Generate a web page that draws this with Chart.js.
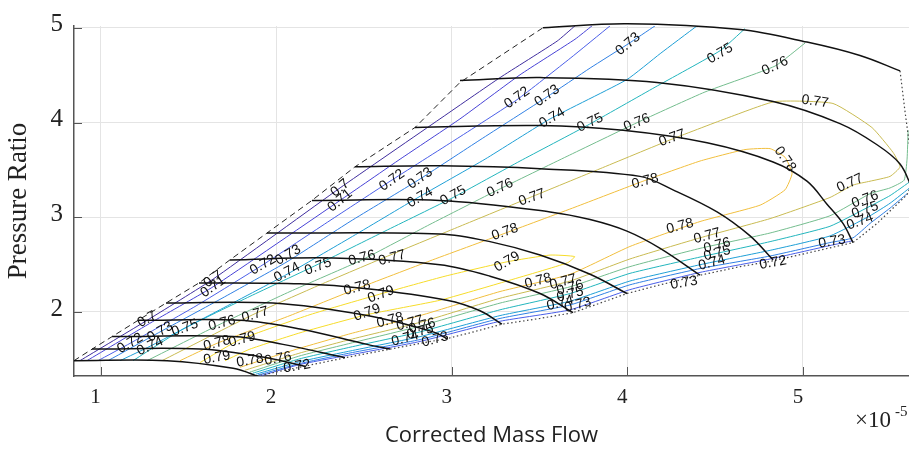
<!DOCTYPE html>
<html>
<head>
<meta charset="utf-8">
<script src="https://cdn.jsdelivr.net/npm/chart.js@4.4.0/dist/chart.umd.min.js"></script>
<style>
  html, body { margin: 0; padding: 0; background: #fff; }
</style>
</head>
<body>
<canvas id="chart" width="909" height="453"></canvas>
<script>
// axes (x is in units of 1e-5)
const xTicks = [1, 2, 3, 4, 5];
const yTicks = [2, 3, 4, 5];
const xRange = [0.849, 5.604];
const yRange = [1.324, 5.02];

// surge line (dashed) and choke boundary (dotted)
const surgeLine = [[0.849,1.486],[0.952,1.608],[1.066,1.740],[1.214,1.912],[1.373,2.094],[1.561,2.307],[1.737,2.550],[1.948,2.834],[2.204,3.178],[2.449,3.533],[2.791,3.948],[3.047,4.424],[3.520,5.002]];
const chokeLine = [[5.553,4.546],[5.581,4.121],[5.610,3.715],[5.621,3.361],[5.593,3.239],[5.422,2.935],[5.285,2.733],[5.069,2.641],[4.830,2.540],[4.642,2.479],[4.414,2.388],[4.187,2.287],[3.998,2.195],[3.845,2.094],[3.691,1.993],[3.503,1.932],[3.286,1.871],[3.104,1.780],[2.973,1.719],[2.820,1.669],[2.649,1.608],[2.421,1.527],[2.210,1.446],[2.051,1.385],[1.891,1.324],[1.794,1.263]];

// constant speed lines, top to bottom
const speedLines = [
  [[3.520,5.002],[3.998,5.043],[4.642,4.982],[5.023,4.850],[5.325,4.708],[5.553,4.546]],
  [[3.047,4.445],[3.503,4.475],[4.169,4.424],[4.830,4.222],[5.211,3.989],[5.422,3.766],[5.553,3.563],[5.621,3.310]],
  [[2.791,3.948],[3.503,3.969],[3.976,3.918],[4.454,3.786],[4.830,3.584],[5.023,3.381],[5.137,3.138],[5.228,2.935],[5.285,2.733]],
  [[2.449,3.533],[2.933,3.543],[3.503,3.513],[4.072,3.432],[4.260,3.290],[4.511,3.057],[4.699,2.803],[4.830,2.550]],
  [[2.204,3.178],[2.933,3.178],[3.560,3.057],[3.788,2.976],[3.998,2.854],[4.187,2.672],[4.414,2.388]],
  [[1.948,2.834],[2.933,2.824],[3.218,2.743],[3.503,2.601],[3.788,2.398],[3.998,2.195]],
  [[1.737,2.550],[2.324,2.570],[2.933,2.499],[3.218,2.378],[3.503,2.195],[3.691,1.993]],
  [[1.561,2.307],[2.136,2.297],[2.518,2.246],[2.973,2.124],[3.161,2.013],[3.286,1.871]],
  [[1.373,2.094],[1.982,2.094],[2.518,1.962],[2.894,1.790],[2.973,1.719]],
  [[1.214,1.912],[1.794,1.912],[2.136,1.820],[2.518,1.658],[2.649,1.608]],
  [[1.066,1.740],[1.755,1.740],[2.039,1.658],[2.392,1.517]],
  [[0.952,1.608],[1.567,1.608],[1.948,1.517],[2.165,1.425]],
  [[0.849,1.486],[1.379,1.486],[1.755,1.405],[1.891,1.324],[1.965,1.263]]
];

// efficiency contours, main branch per level
const eff70 = [[0.883,1.486],[1.265,1.912],[1.641,2.347],[2.364,3.310],[2.933,4.039],[3.275,4.475],[3.600,4.860],[3.702,5.022]];
const eff71 = [[0.923,1.486],[1.310,1.912],[1.641,2.266],[2.364,3.178],[2.706,3.614],[3.047,4.039],[3.389,4.505],[3.702,4.880],[3.799,5.022]];
const eff72 = [[0.986,1.486],[1.168,1.669],[1.544,2.064],[1.925,2.499],[2.307,2.966],[2.649,3.381],[3.019,3.817],[3.372,4.242],[3.674,4.678],[3.902,5.022]];
const eff73 = [[1.043,1.486],[1.339,1.790],[1.692,2.145],[2.062,2.530],[2.421,2.955],[2.808,3.391],[3.161,3.817],[3.543,4.272],[3.788,4.576],[4.004,4.830],[4.158,5.022]];
const eff74 = [[1.111,1.486],[1.282,1.638],[1.669,2.013],[2.062,2.398],[2.421,2.783],[2.808,3.209],[3.190,3.614],[3.560,4.039],[3.998,4.455],[4.187,4.728],[4.397,5.022]];
const eff75 = [[1.185,1.486],[1.470,1.820],[1.851,2.165],[2.233,2.499],[2.620,2.854],[3.008,3.209],[3.389,3.594],[3.771,3.969],[4.158,4.374],[4.528,4.759],[4.670,4.992]];
const eff76 = [[1.265,1.486],[1.681,1.871],[2.079,2.216],[2.489,2.550],[2.876,2.925],[3.264,3.290],[3.657,3.644],[4.055,3.999],[4.442,4.323],[4.841,4.597],[5.012,4.840]];
const eff77 = [[1.350,1.486],[1.868,1.972],[2.250,2.287],[2.649,2.601],[3.047,2.905],[3.446,3.209],[3.845,3.513],[4.243,3.817],[4.556,4.039],[4.841,4.222],[5.171,4.202],[5.393,3.948],[5.513,3.685],[5.553,3.533],[5.496,3.432],[5.382,3.381],[5.285,3.340],[5.154,3.209],[4.813,2.986],[4.414,2.783],[4.015,2.560],[3.674,2.327],[3.275,2.145],[2.820,1.891],[2.421,1.709],[2.136,1.567],[1.823,1.385]];
const eff78 = [[1.453,1.486],[1.663,1.669],[2.079,1.962],[2.461,2.246],[2.876,2.540],[3.292,2.824],[3.702,3.107],[4.089,3.381],[4.414,3.594],[4.670,3.715],[4.813,3.725],[4.898,3.634],[4.938,3.462],[4.898,3.290],[4.756,3.128],[4.414,2.955],[4.015,2.692],[3.674,2.398],[3.275,2.216],[2.820,1.962],[2.421,1.770],[2.136,1.618],[1.908,1.486],[1.794,1.415]];
const eff79 = [[1.567,1.466],[1.794,1.709],[2.193,1.972],[2.603,2.195],[2.962,2.378],[3.315,2.530],[3.560,2.601],[3.700,2.585],[3.660,2.520],[3.315,2.327],[2.933,2.124],[2.518,1.972],[2.136,1.780],[1.851,1.608],[1.709,1.486]];

// choke-side branches of the lower levels
const eff72r = [[5.285,2.753],[5.154,2.702],[4.813,2.560],[4.414,2.418],[4.015,2.236],[3.674,2.023],[3.275,1.902],[2.820,1.689],[2.421,1.547],[2.136,1.446],[1.908,1.324]];
const eff73r = [[5.593,3.249],[5.496,3.097],[5.382,2.935],[5.285,2.783],[5.154,2.733],[4.813,2.591],[4.414,2.459],[4.015,2.287],[3.674,2.074],[3.275,1.932],[2.820,1.709],[2.421,1.567],[2.136,1.456],[1.897,1.334]];
const eff74r = [[5.621,3.330],[5.496,3.148],[5.382,3.016],[5.154,2.803],[4.813,2.651],[4.414,2.499],[4.015,2.327],[3.674,2.114],[3.275,1.962],[2.820,1.740],[2.421,1.588],[2.136,1.476],[1.886,1.344]];
const eff75r = [[5.621,3.391],[5.496,3.229],[5.382,3.117],[5.154,2.905],[4.813,2.743],[4.414,2.580],[4.015,2.408],[3.674,2.195],[3.275,2.023],[2.820,1.790],[2.421,1.628],[2.136,1.506],[1.868,1.354]];
const eff76r = [[5.599,3.918],[5.593,3.614],[5.576,3.391],[5.496,3.310],[5.382,3.249],[5.154,3.016],[4.813,2.834],[4.414,2.672],[4.015,2.479],[3.674,2.266],[3.275,2.094],[2.820,1.851],[2.421,1.669],[2.136,1.537],[1.851,1.365]];

const effLevels = [0.70, 0.71, 0.72, 0.73, 0.74, 0.75, 0.76, 0.77, 0.78, 0.79];
const effColors = ['#3f2d9e','#4742d6','#4a5ee8','#3080e4','#1e9fd6','#22b5bd','#74bd8e','#c9bb52','#f1bf3e','#f6dc2a'];
const effCurves = [
  [0.70, eff70], [0.71, eff71], [0.72, eff72], [0.73, eff73], [0.74, eff74],
  [0.75, eff75], [0.76, eff76], [0.77, eff77], [0.78, eff78], [0.79, eff79],
  [0.72, eff72r], [0.73, eff73r], [0.74, eff74r], [0.75, eff75r], [0.76, eff76r]
];

// inline contour labels: text, x, y, angle (deg)
const contourLabels = [
  ['0.73',4.004,4.830,-40],['0.75',4.528,4.728,-30],['0.76',4.841,4.597,-25],
  ['0.72',3.372,4.262,-35],['0.73',3.543,4.283,-35],['0.74',3.571,4.050,-30],['0.75',3.788,3.999,-25],
  ['0.76',4.055,3.999,-22],['0.77',4.255,3.837,-20],['0.77',5.069,4.222,8],['0.78',4.898,3.614,55],
  ['0.7',2.364,3.310,-40],['0.71',2.364,3.178,-40],['0.72',2.660,3.391,-35],['0.73',2.820,3.411,-35],
  ['0.74',2.820,3.209,-30],['0.75',3.008,3.229,-28],['0.76',3.275,3.310,-25],['0.77',3.457,3.209,-20],
  ['0.78',4.101,3.381,-15],['0.78',3.303,2.844,-20],['0.79',3.315,2.530,-30],
  ['0.78',4.300,2.905,-15],['0.77',4.454,2.803,-15],['0.76',4.511,2.702,-15],['0.75',4.511,2.621,-15],
  ['0.74',4.482,2.520,-15],['0.73',4.323,2.307,-10],['0.72',4.830,2.520,-10],['0.73',5.166,2.743,-10],
  ['0.74',5.325,2.955,-20],['0.75',5.354,3.077,-20],['0.76',5.354,3.188,-20],['0.77',5.268,3.361,-25],
  ['0.7',1.641,2.347,-35],['0.71',1.641,2.266,-35],['0.72',1.925,2.499,-30],['0.73',2.068,2.601,-30],
  ['0.74',2.062,2.418,-28],['0.75',2.239,2.479,-20],['0.76',2.489,2.570,-15],['0.77',2.660,2.570,-15],
  ['0.78',2.461,2.256,-15],['0.79',2.597,2.185,-20],['0.79',2.518,1.993,-20],['0.78',2.649,1.912,-15],
  ['0.77',2.762,1.881,-15],['0.76',2.831,1.851,-15],['0.75',2.820,1.790,-15],['0.74',2.734,1.719,-15],
  ['0.73',2.905,1.709,-15],['0.78',3.492,2.327,-15],['0.77',3.634,2.317,-15],['0.76',3.674,2.256,-15],
  ['0.75',3.674,2.185,-15],['0.74',3.617,2.094,-15],['0.73',3.719,2.074,-15],
  ['0.7',1.265,1.922,-30],['0.72',1.168,1.669,-30],['0.73',1.339,1.790,-30],['0.74',1.282,1.638,-25],
  ['0.75',1.481,1.831,-20],['0.76',1.692,1.881,-15],['0.77',1.880,1.972,-15],['0.78',1.663,1.669,-15],
  ['0.79',1.806,1.709,-15],['0.79',1.663,1.517,-10],['0.78',1.851,1.486,-10],['0.76',2.011,1.506,-10],
  ['0.72',2.119,1.425,-10]
];

const toXY = pts => pts.map(([x, y]) => ({ x, y }));

const datasets = [];
speedLines.forEach((pts, i) => {
  datasets.push({ data: toXY(pts), showLine: true, borderColor: '#111', borderWidth: 1.5,
    tension: 0.35, pointRadius: 0, clip: i === 0 ? 6 : 0 });
});
datasets.push({ data: toXY(surgeLine), showLine: true, borderColor: '#222', borderWidth: 1,
  borderDash: [6, 4], tension: 0, pointRadius: 0 });
datasets.push({ data: toXY(chokeLine), showLine: true, borderColor: '#444', borderWidth: 1.2,
  borderDash: [1.5, 2.5], tension: 0, pointRadius: 0 });
effCurves.forEach(([lvl, pts]) => {
  datasets.push({ data: toXY(pts), showLine: true, borderColor: effColors[effLevels.indexOf(lvl)],
    borderWidth: 1, tension: 0.15, pointRadius: 0 });
});

const innerTicks = {
  id: 'innerTicks',
  afterDatasetsDraw(c) {
    const { ctx, chartArea: a, scales: { x, y } } = c;
    ctx.save();
    ctx.strokeStyle = '#555';
    ctx.lineWidth = 1;
    ctx.beginPath();
    xTicks.forEach(v => { const p = Math.round(x.getPixelForValue(v)) + 0.5; ctx.moveTo(p, a.bottom); ctx.lineTo(p, a.bottom - 9); });
    yTicks.forEach(v => { const p = Math.round(y.getPixelForValue(v)) + 0.5; ctx.moveTo(a.left, p); ctx.lineTo(a.left + 8, p); });
    ctx.stroke();
    ctx.restore();
  }
};

const contourText = {
  id: 'contourText',
  afterDatasetsDraw(c) {
    const { ctx, scales: { x, y } } = c;
    ctx.save();
    ctx.font = '14px "Liberation Sans", Arial, sans-serif';
    ctx.fillStyle = '#111';
    ctx.textAlign = 'center';
    ctx.textBaseline = 'middle';
    contourLabels.forEach(([t, vx, vy, ang]) => {
      ctx.save();
      ctx.translate(x.getPixelForValue(vx), y.getPixelForValue(vy));
      ctx.rotate(ang * Math.PI / 180);
      ctx.fillText(t, 0, 0);
      ctx.restore();
    });
    ctx.restore();
  }
};

const exponentText = {
  id: 'exponentText',
  afterDraw(c) {
    const { ctx } = c;
    ctx.save();
    ctx.fillStyle = '#222';
    ctx.textAlign = 'left';
    ctx.textBaseline = 'alphabetic';
    ctx.font = '23px "Liberation Serif", serif';
    ctx.fillText('\u00d710', 855, 427);
    ctx.font = '15px "Liberation Serif", serif';
    ctx.fillText('-5', 895, 416);
    ctx.restore();
  }
};

new Chart(document.getElementById('chart'), {
  type: 'scatter',
  data: { datasets },
  options: {
    responsive: false,
    animation: false,
    events: [],
    layout: { padding: { top: 11, left: 0, right: 0, bottom: 0 } },
    plugins: { legend: { display: false }, tooltip: { enabled: false } },
    scales: {
      x: {
        type: 'linear', min: xRange[0], max: xRange[1],
        afterBuildTicks: s => { s.ticks = xTicks.map(v => ({ value: v })); },
        afterFit: s => { s.height = 77; },
        grid: { color: '#e4e4e4', drawTicks: false },
        border: { color: '#555', width: 1.5 },
        ticks: { font: { family: 'Liberation Serif', size: 21 }, color: '#222', padding: 9, labelOffset: -5 },
        title: { display: true, text: 'Corrected Mass Flow', color: '#222',
          font: { family: 'Open Sans', size: 22 }, padding: { top: 0, bottom: 4 } }
      },
      y: {
        type: 'linear', min: yRange[0], max: yRange[1],
        afterBuildTicks: s => { s.ticks = yTicks.map(v => ({ value: v })); },
        afterFit: s => { s.width = 74; },
        grid: { color: '#e4e4e4', drawTicks: false },
        border: { color: '#555', width: 1.5 },
        ticks: { font: { family: 'Liberation Serif', size: 25 }, color: '#222', padding: 11, labelOffset: -3 },
        title: { display: true, text: 'Pressure Ratio', color: '#222',
          font: { family: 'Liberation Serif', size: 27 }, padding: { top: 3, bottom: 0 } }
      }
    }
  },
  plugins: [innerTicks, contourText, exponentText]
});
</script>
</body>
</html>
